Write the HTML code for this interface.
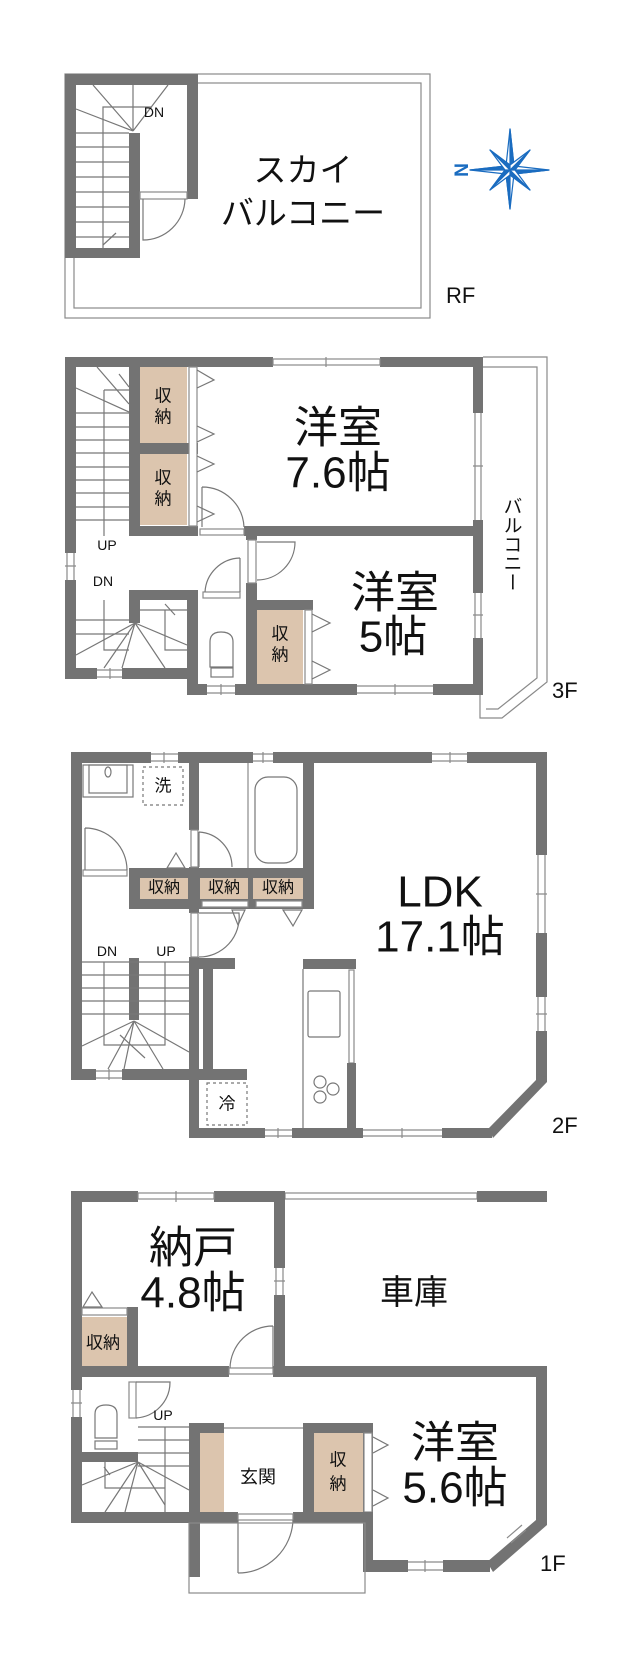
<!DOCTYPE html>
<html><head><meta charset="utf-8"><style>
html,body{margin:0;padding:0;background:#fff}
svg{display:block}
text{font-family:"Liberation Sans","Noto Sans CJK JP",sans-serif;fill:#111}
</style></head><body>
<svg width="633" height="1666" viewBox="0 0 633 1666" xmlns="http://www.w3.org/2000/svg">
<defs>
<style>
.w{fill:#737373}
.t{fill:none;stroke:#8a8a8a;stroke-width:1.2}
.s{fill:#fff;stroke:#8a8a8a;stroke-width:1.2}
.b{fill:#dcc5ae}
.d{fill:none;stroke:#777;stroke-width:1.2}
.dash{fill:none;stroke:#777;stroke-width:1.2;stroke-dasharray:3 3}
</style>
</defs>

<!-- ================= RF ================= -->
<rect x="65" y="74" width="365" height="244" class="t"/>
<rect x="74" y="83" width="347" height="225" class="t"/>
<rect x="65" y="74" width="133" height="11" class="w"/>
<rect x="65" y="74" width="11" height="184" class="w"/>
<rect x="187" y="74" width="11" height="125" class="w"/>
<rect x="65" y="248" width="75" height="10" class="w"/>
<rect x="129" y="133" width="11" height="125" class="w"/>
<g class="d">
<path d="M76 133H129M76 147H129M76 162H129M76 177H129M76 192H129M76 207H129M76 222H129M76 237H129"/>
<path d="M103 248V107H152"/>
<path d="M133 131L76 109M133 131L93 85M133 131V85M133 131L168 85M103 245L116 233"/>
</g>
<rect x="140" y="192" width="47" height="7" class="s"/>
<path d="M143 199V240A42 42 0 0 0 185 199" class="d"/>
<text x="154" y="117" font-size="14" text-anchor="middle">DN</text>
<text x="303" y="170" font-size="33" text-anchor="middle" dominant-baseline="central">スカイ</text>
<text x="303" y="213" font-size="33" text-anchor="middle" dominant-baseline="central">バルコニー</text>
<text x="446" y="303" font-size="22">RF</text>
<!-- compass -->
<g transform="translate(510,170)" stroke="#1a6cc0" stroke-width="1.2" stroke-linejoin="round">
<polygon points="0,-41 4,-4 39,0 4,4 0,39 -4,4 -40,0 -4,-4" fill="#fff"/>
<polygon points="0,-41 4,-4 0,0" fill="#1a6cc0"/>
<polygon points="39,0 4,4 0,0" fill="#1a6cc0"/>
<polygon points="0,39 -4,4 0,0" fill="#1a6cc0"/>
<polygon points="-40,0 -4,-4 0,0" fill="#1a6cc0"/>
<polygon points="-20,-20 0,-5 20,-20 5,0 20,20 0,5 -20,20 -5,0" fill="#fff"/>
<polygon points="-20,-20 0,-5 0,0" fill="#1a6cc0"/>
<polygon points="20,-20 5,0 0,0" fill="#1a6cc0"/>
<polygon points="20,20 0,5 0,0" fill="#1a6cc0"/>
<polygon points="-20,20 -5,0 0,0" fill="#1a6cc0"/>
</g>
<text x="460" y="170" font-size="19" font-weight="bold" style="fill:#1a6cc0" text-anchor="middle" dominant-baseline="central" transform="rotate(90 460 170)">N</text>

<!-- ================= 3F ================= -->
<path d="M483 357H547V682L502 718H480V695" class="t"/>
<path d="M483 367H537V678L498 709H486" class="t"/>
<rect x="65" y="357" width="208" height="10" class="w"/>
<rect x="380" y="357" width="103" height="10" class="w"/>
<rect x="273" y="359" width="107" height="6" class="t"/>
<path d="M326 357V367" class="t"/>
<rect x="65" y="357" width="11" height="196" class="w"/>
<rect x="65" y="580" width="11" height="99" class="w"/>
<path d="M67 553V580M74 553V580M65 566H76" class="t"/>
<rect x="65" y="668" width="32" height="11" class="w"/>
<rect x="122" y="668" width="65" height="11" class="w"/>
<path d="M97 670H122M97 677H122M110 668V679" class="t"/>
<rect x="129" y="367" width="11" height="169" class="w"/>
<rect x="129" y="443" width="69" height="11" class="w"/>
<rect x="129" y="526" width="69" height="10" class="w"/>
<rect x="244" y="526" width="239" height="10" class="w"/>
<rect x="200" y="529" width="44" height="6" class="s"/>
<rect x="473" y="357" width="10" height="56" class="w"/>
<rect x="473" y="520" width="10" height="73" class="w"/>
<rect x="473" y="638" width="10" height="57" class="w"/>
<path d="M475 413V520M481 413V520M475 593V638M481 593V638M473 466H483M473 615H483" class="t"/>
<rect x="187" y="684" width="20" height="11" class="w"/>
<rect x="235" y="684" width="122" height="11" class="w"/>
<rect x="433" y="684" width="50" height="11" class="w"/>
<path d="M207 686H235M207 693H235M357 686H433M357 693H433M395 684V695M221 684V695" class="t"/>
<rect x="187" y="590" width="11" height="105" class="w"/>
<rect x="246" y="526" width="11" height="14" class="w"/>
<rect x="246" y="583" width="11" height="112" class="w"/>
<rect x="248" y="540" width="8" height="43" class="s"/>
<rect x="129" y="590" width="69" height="10" class="w"/>
<rect x="129" y="590" width="11" height="33" class="w"/>
<rect x="203" y="592" width="37" height="6" class="s"/>
<rect x="140" y="367" width="47" height="76" class="b"/>
<rect x="140" y="454" width="47" height="71" class="b"/>
<rect x="189" y="367" width="8" height="159" class="s"/>
<path d="M197 370L214 380L197 388M197 426L214 434L197 442M197 456L214 464L197 472M197 506L214 514L197 522" class="d"/>
<rect x="246" y="600" width="67" height="10" class="w"/>
<rect x="257" y="610" width="46" height="74" class="b"/>
<rect x="305" y="610" width="7" height="74" class="s"/>
<path d="M312 614L330 623L312 632M312 661L330 670L312 679" class="d"/>
<path d="M202 487V527M202 487A42 42 0 0 1 244 527" class="d"/>
<path d="M257 542H295A38 38 0 0 1 257 580" class="d"/>
<path d="M240 558V592M240 558A36 36 0 0 0 205 592" class="d"/>
<g class="d">
<path d="M76 413H129M76 427H129M76 440H129M76 453H129M76 467H129M76 480H129M76 493H129M76 507H129M76 520H129"/>
<path d="M104 390V536M104 390H129"/>
<path d="M76 388L129 412M97 367L129 404M119 374L129 387"/>
<path d="M76 620H129M76 634H129M104 600V650H129"/>
<path d="M135 623L76 655M135 623L104 668M135 623L122 668M135 623L165 668M135 623L187 645M140 610H187M165 610V650H187M165 604L175 615"/>
</g>
<path d="M210 667V642Q210 632 221 632Q233 632 233 642V667Z" class="d"/>
<rect x="211" y="668" width="22" height="9" class="d"/>
<text x="163" y="396" font-size="17" text-anchor="middle" dominant-baseline="central">収</text>
<text x="163" y="417" font-size="17" text-anchor="middle" dominant-baseline="central">納</text>
<text x="163" y="478" font-size="17" text-anchor="middle" dominant-baseline="central">収</text>
<text x="163" y="499" font-size="17" text-anchor="middle" dominant-baseline="central">納</text>
<text x="280" y="634" font-size="17" text-anchor="middle" dominant-baseline="central">収</text>
<text x="280" y="655" font-size="17" text-anchor="middle" dominant-baseline="central">納</text>
<text x="338" y="428" font-size="44" text-anchor="middle" dominant-baseline="central">洋室</text>
<text x="338" y="473" font-size="44" text-anchor="middle" dominant-baseline="central">7.6帖</text>
<text x="395" y="593" font-size="44" text-anchor="middle" dominant-baseline="central">洋室</text>
<text x="393" y="637" font-size="44" text-anchor="middle" dominant-baseline="central">5帖</text>
<text x="107" y="545" font-size="14" text-anchor="middle" dominant-baseline="central">UP</text>
<text x="103" y="581" font-size="14" text-anchor="middle" dominant-baseline="central">DN</text>
<text x="511" y="544" font-size="19" text-anchor="middle" dominant-baseline="central" writing-mode="tb">バルコニー</text>
<text x="552" y="698" font-size="22">3F</text>

<!-- ================= 2F ================= -->
<rect x="71" y="752" width="80" height="11" class="w"/>
<rect x="178" y="752" width="75" height="11" class="w"/>
<rect x="273" y="752" width="159" height="11" class="w"/>
<rect x="467" y="752" width="80" height="11" class="w"/>
<path d="M151 754H178M151 761H178M164 752V763M253 754H273M253 761H273M263 752V763M432 754H467M432 761H467M450 752V763" class="t"/>
<rect x="71" y="752" width="11" height="328" class="w"/>
<rect x="536" y="752" width="11" height="103" class="w"/>
<rect x="536" y="933" width="11" height="64" class="w"/>
<rect x="536" y="1031" width="11" height="46" class="w"/>
<path d="M538 855V933M545 855V933M538 997V1031M545 997V1031M536 894H547M536 1014H547" class="t"/>
<polygon points="536,1074 547,1077 547,1082 493,1138 489,1128 536,1080" class="w"/>
<rect x="71" y="1069" width="25" height="11" class="w"/>
<rect x="122" y="1069" width="125" height="11" class="w"/>
<path d="M96 1071H122M96 1078H122M109 1069V1080" class="t"/>
<rect x="192" y="1128" width="73" height="10" class="w"/>
<rect x="292" y="1128" width="71" height="10" class="w"/>
<rect x="442" y="1128" width="50" height="10" class="w"/>
<path d="M265 1130H292M265 1136H292M278 1128V1138M363 1130H442M363 1136H442M402 1128V1138" class="t"/>
<rect x="189" y="752" width="10" height="78" class="w"/>
<rect x="189" y="867" width="10" height="46" class="w"/>
<rect x="189" y="957" width="10" height="181" class="w"/>
<rect x="191" y="830" width="7" height="37" class="s"/>
<rect x="191" y="913" width="7" height="44" class="s"/>
<rect x="199" y="958" width="36" height="11" class="w"/>
<rect x="203" y="958" width="10" height="115" class="w"/>
<rect x="199" y="1069" width="46" height="11" class="w"/>
<rect x="303" y="752" width="11" height="157" class="w"/>
<path d="M248 763V868" class="t"/>
<rect x="129" y="868" width="185" height="10" class="w"/>
<rect x="129" y="868" width="11" height="41" class="w"/>
<rect x="129" y="899" width="185" height="10" class="w"/>
<rect x="140" y="878" width="48" height="21" class="b"/>
<rect x="200" y="878" width="48" height="21" class="b"/>
<rect x="253" y="878" width="50" height="21" class="b"/>
<rect x="188" y="878" width="12" height="21" class="w"/>
<rect x="248" y="878" width="5" height="21" class="w"/>
<rect x="202" y="901" width="46" height="6" class="s"/>
<rect x="256" y="901" width="46" height="6" class="s"/>
<rect x="83" y="870" width="44" height="6" class="s"/>
<path d="M176 853L167 868H185Z" class="d"/>
<path d="M232 910L245 910L238 925Z M283 910L302 910L293 926Z" class="d"/>
<path d="M85 828V870M85 828A42 42 0 0 1 127 870" class="d"/>
<path d="M199 832V867M199 832A35 35 0 0 1 232 867" class="d"/>
<path d="M199 913H239A40 40 0 0 1 199 957" class="d"/>
<rect x="83" y="765" width="50" height="32" class="d"/>
<rect x="89" y="765" width="38" height="28" class="d"/>
<ellipse cx="108" cy="772" rx="3" ry="5" class="d"/>
<rect x="143" y="767" width="40" height="38" class="dash"/>
<text x="163" y="786" font-size="17" text-anchor="middle" dominant-baseline="central">洗</text>
<rect x="255" y="777" width="42" height="86" rx="13" class="d"/>
<rect x="129" y="958" width="10" height="62" class="w"/>
<g class="d">
<path d="M82 962H189M82 975H189M82 988H189M82 1001H189M82 1014H189"/>
<path d="M104 962V1045H165V962"/>
<path d="M134 1021L82 1046M134 1021L108 1069M134 1021L124 1069M134 1021L163 1069M134 1021L189 1052M120 1035L145 1058"/>
</g>
<text x="107" y="951" font-size="14" text-anchor="middle" dominant-baseline="central">DN</text>
<text x="166" y="951" font-size="14" text-anchor="middle" dominant-baseline="central">UP</text>
<rect x="303" y="959" width="53" height="10" class="w"/>
<path d="M303 969V1128" class="d"/>
<rect x="349" y="970" width="5" height="93" class="s"/>
<rect x="347" y="1063" width="9" height="65" class="w"/>
<rect x="308" y="991" width="32" height="46" rx="2" class="d"/>
<circle cx="320" cy="1082" r="6" class="d"/>
<circle cx="333" cy="1089" r="6" class="d"/>
<circle cx="320" cy="1097" r="6" class="d"/>
<rect x="207" y="1083" width="40" height="42" class="dash"/>
<text x="227" y="1104" font-size="17" text-anchor="middle" dominant-baseline="central">冷</text>
<text x="440" y="892" font-size="44" text-anchor="middle" dominant-baseline="central">LDK</text>
<text x="440" y="937" font-size="44" text-anchor="middle" dominant-baseline="central">17.1帖</text>
<text x="552" y="1133" font-size="22">2F</text>
<text x="164" y="888" font-size="16" text-anchor="middle" dominant-baseline="central">収納</text>
<text x="224" y="888" font-size="16" text-anchor="middle" dominant-baseline="central">収納</text>
<text x="278" y="888" font-size="16" text-anchor="middle" dominant-baseline="central">収納</text>

<!-- ================= 1F ================= -->
<rect x="71" y="1191" width="67" height="11" class="w"/>
<rect x="214" y="1191" width="71" height="11" class="w"/>
<rect x="138" y="1193" width="76" height="6" class="t"/>
<path d="M176 1191V1202" class="t"/>
<rect x="285" y="1193" width="192" height="6" class="t"/>
<rect x="477" y="1191" width="70" height="11" class="w"/>
<rect x="71" y="1191" width="11" height="199" class="w"/>
<rect x="71" y="1417" width="11" height="106" class="w"/>
<path d="M73 1390V1417M80 1390V1417M71 1403H82" class="t"/>
<rect x="274" y="1191" width="11" height="77" class="w"/>
<rect x="274" y="1295" width="11" height="82" class="w"/>
<path d="M276 1268V1295M283 1268V1295M274 1281H285" class="t"/>
<rect x="71" y="1366" width="158" height="11" class="w"/>
<rect x="273" y="1366" width="274" height="11" class="w"/>
<rect x="229" y="1368" width="44" height="6" class="s"/>
<path d="M273 1326V1368M273 1326A43 43 0 0 0 230 1368" class="d"/>
<rect x="536" y="1366" width="11" height="154" class="w"/>
<polygon points="536,1518 547,1520 547,1525 493,1572 487,1562 536,1520" class="w"/>
<path d="M507 1538L522 1525M511 1543L526 1530" class="t"/>
<rect x="363" y="1560" width="45" height="12" class="w"/>
<rect x="443" y="1560" width="47" height="12" class="w"/>
<path d="M408 1562H443M408 1570H443M425 1560V1572" class="t"/>
<rect x="363" y="1423" width="10" height="149" class="w"/>
<rect x="303" y="1423" width="70" height="10" class="w"/>
<rect x="303" y="1423" width="11" height="100" class="w"/>
<rect x="314" y="1433" width="49" height="79" class="b"/>
<rect x="364" y="1433" width="8" height="79" class="s"/>
<path d="M373 1437L388 1445L373 1453M373 1490L388 1498L373 1506" class="d"/>
<rect x="189" y="1423" width="35" height="10" class="w"/>
<rect x="189" y="1423" width="11" height="154" class="w"/>
<rect x="200" y="1433" width="24" height="79" class="b"/>
<path d="M224 1428H303" class="t"/>
<rect x="71" y="1512" width="167" height="11" class="w"/>
<rect x="293" y="1512" width="80" height="11" class="w"/>
<rect x="238" y="1514" width="55" height="6" class="s"/>
<path d="M238 1520V1573M238 1573A55 55 0 0 0 293 1520" class="d"/>
<rect x="189" y="1523" width="176" height="70" class="t"/>
<rect x="127" y="1307" width="11" height="70" class="w"/>
<rect x="82" y="1317" width="45" height="49" class="b"/>
<rect x="82" y="1308" width="45" height="7" class="s"/>
<path d="M92 1292L83 1307H102Z" class="d"/>
<rect x="82" y="1452" width="56" height="10" class="w"/>
<rect x="129" y="1382" width="7" height="36" class="s"/>
<path d="M136 1382H170A36 36 0 0 1 136 1418" class="d"/>
<path d="M95 1438V1414Q95 1405 106 1405Q117 1405 117 1414V1438Z" class="d"/>
<rect x="95" y="1441" width="22" height="8" class="d"/>
<g class="d">
<path d="M138 1427H189M138 1440H189M138 1453H189M138 1466H189"/>
<path d="M105 1462V1488H165M165 1427V1512"/>
<path d="M138 1462L82 1485M138 1462L105 1512M138 1462L125 1512M138 1462L165 1505M138 1462L189 1490M104 1467L110 1475"/>
</g>
<text x="163" y="1415" font-size="14" text-anchor="middle" dominant-baseline="central">UP</text>
<text x="103" y="1343" font-size="17" text-anchor="middle" dominant-baseline="central">収納</text>
<text x="338" y="1460" font-size="17" text-anchor="middle" dominant-baseline="central">収</text>
<text x="338" y="1484" font-size="17" text-anchor="middle" dominant-baseline="central">納</text>
<text x="258" y="1477" font-size="18" text-anchor="middle" dominant-baseline="central">玄関</text>
<text x="193" y="1248" font-size="44" text-anchor="middle" dominant-baseline="central">納戸</text>
<text x="193" y="1293" font-size="44" text-anchor="middle" dominant-baseline="central">4.8帖</text>
<text x="414" y="1293" font-size="34" text-anchor="middle" dominant-baseline="central">車庫</text>
<text x="455" y="1443" font-size="44" text-anchor="middle" dominant-baseline="central">洋室</text>
<text x="455" y="1488" font-size="44" text-anchor="middle" dominant-baseline="central">5.6帖</text>
<text x="540" y="1571" font-size="22">1F</text>
</svg>
</body></html>
